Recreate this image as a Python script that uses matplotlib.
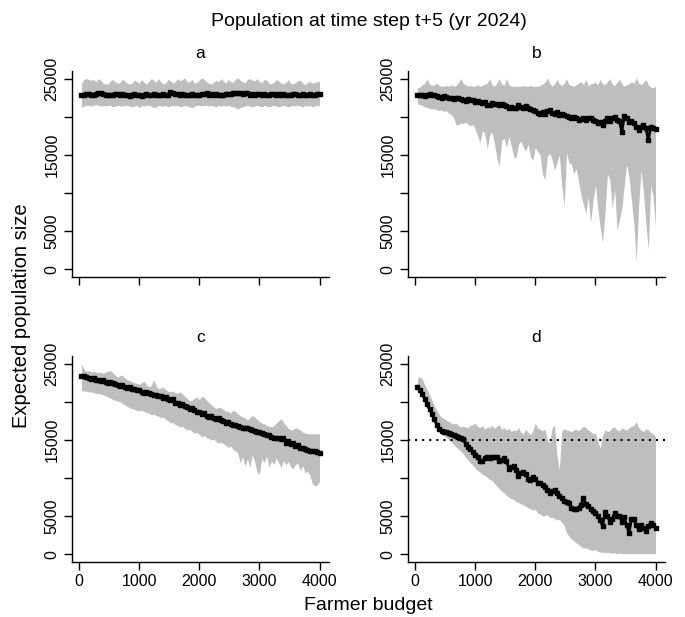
import numpy as np
import matplotlib
matplotlib.use("Agg")
import matplotlib.pyplot as plt

plt.rcParams['font.family'] = ['Liberation Sans', 'DejaVu Sans']

# farmer budget grid (x)
budget = np.arange(40, 4001, 40)

# population values in thousands
a_mean = [22.9, 22.9, 23.0, 23.0, 22.9, 22.9, 23.0, 23.1, 23.1, 23.0,
          22.9, 22.8, 22.8, 22.9, 23.0, 23.0, 22.9, 23.0, 22.9, 22.9,
          22.7, 22.9, 23.0, 22.9, 22.9, 22.7, 22.9, 23.0, 22.9, 22.9,
          23.0, 22.9, 22.9, 22.8, 23.0, 22.9, 22.9, 23.2, 23.1, 23.0,
          23.0, 22.9, 23.0, 22.9, 22.9, 22.8, 23.0, 22.9, 22.9, 22.8,
          23.0, 23.0, 23.1, 22.9, 23.0, 22.9, 23.0, 22.9, 22.9, 22.9,
          23.0, 23.0, 23.0, 23.1, 23.1, 23.1, 23.1, 23.0, 23.1, 23.1,
          22.9, 23.0, 22.8, 23.0, 23.0, 22.8, 23.0, 22.9, 22.9, 23.0,
          23.0, 22.9, 23.0, 22.9, 23.0, 22.9, 22.9, 22.9, 23.0, 23.0,
          22.9, 22.9, 23.0, 22.9, 22.9, 23.0, 22.9, 22.9, 23.0, 23.0]
a_hi = [24.3, 24.9, 25.0, 24.9, 24.8, 24.9, 24.6, 25.0, 24.8, 24.4,
        24.3, 24.3, 24.7, 24.9, 24.6, 24.4, 24.5, 24.9, 24.7, 24.4,
        24.3, 24.4, 24.8, 24.6, 24.4, 24.9, 24.5, 24.3, 24.6, 25.0,
        24.8, 24.5, 25.0, 24.6, 24.3, 24.4, 24.9, 24.7, 24.4, 24.6,
        25.0, 24.7, 24.9, 25.1, 24.5, 24.6, 24.9, 24.4, 24.5, 24.8,
        25.1, 24.9, 24.6, 24.4, 24.3, 24.5, 24.8, 24.6, 25.0, 24.7,
        24.4, 24.9, 24.6, 24.5, 24.9, 25.1, 24.8, 24.6, 24.4, 24.9,
        25.0, 24.8, 24.7, 25.0, 24.6, 24.5, 24.9, 24.8, 24.4, 24.3,
        24.5, 24.9, 24.7, 24.4, 24.3, 24.5, 24.9, 24.4, 24.3, 24.5,
        24.7, 24.8, 24.4, 24.2, 24.5, 24.6, 24.4, 24.5, 24.6, 24.7]
a_lo = [21.2, 21.4, 21.5, 21.5, 21.4, 21.5, 21.6, 21.5, 21.4, 21.5,
        21.4, 21.5, 21.5, 21.3, 21.4, 21.5, 21.4, 21.4, 21.5, 21.5,
        21.4, 21.3, 21.4, 21.5, 21.2, 21.5, 21.4, 21.5, 21.5, 21.4,
        21.2, 21.3, 21.5, 21.4, 21.4, 21.5, 21.3, 21.4, 21.5, 21.4,
        21.5, 21.3, 21.4, 21.5, 21.4, 21.3, 21.2, 21.4, 21.5, 21.5,
        21.4, 21.5, 21.5, 21.4, 21.5, 21.4, 21.3, 21.5, 21.4, 21.5,
        21.4, 21.5, 21.4, 21.3, 21.2, 21.0, 21.2, 21.3, 21.4, 21.5,
        21.4, 21.3, 21.4, 21.5, 21.4, 21.3, 21.5, 21.4, 21.3, 21.4,
        21.5, 21.4, 21.3, 21.4, 21.5, 21.4, 21.3, 21.4, 21.5, 21.4,
        21.5, 21.4, 21.3, 21.5, 21.4, 21.5, 21.3, 21.4, 21.5, 21.4]

b_mean = [22.8, 22.8, 22.9, 22.7, 22.9, 23.0, 22.8, 22.9, 22.7, 22.6,
          22.5, 22.7, 22.6, 22.4, 22.5, 22.3, 22.4, 22.5, 22.3, 22.2,
          22.1, 22.3, 22.2, 22.2, 22.0, 22.1, 21.9, 21.8, 21.9, 21.6,
          21.5, 21.8, 21.7, 21.7, 21.5, 21.7, 21.6, 21.4, 21.2, 21.3,
          21.1, 21.2, 21.5, 21.3, 21.1, 21.4, 21.2, 21.0, 20.9, 20.8,
          20.5, 20.4, 20.6, 20.4, 20.8, 20.9, 20.5, 20.3, 20.6, 20.2,
          20.4, 20.2, 20.1, 20.0, 19.8, 20.0, 19.9, 19.6, 19.7, 19.9,
          19.6, 19.8, 19.9, 19.6, 19.4, 19.2, 19.3, 18.9, 19.5, 19.8,
          19.4, 19.9, 20.0, 19.6, 19.4, 18.0, 20.1, 19.9, 19.3, 19.5,
          19.2, 18.7, 18.3, 18.6, 18.9, 18.5, 17.0, 18.6, 18.5, 18.4]
b_hi = [23.8, 23.9, 24.2, 24.4, 25.0, 24.3, 24.1, 24.2, 24.4, 24.1,
        24.0, 24.0, 24.1, 24.0, 24.2, 24.0, 24.1, 24.5, 25.0, 24.4,
        24.2, 24.0, 24.1, 24.0, 24.0, 24.2, 24.0, 24.1, 24.3, 24.4,
        25.0, 24.2, 24.0, 24.4, 25.0, 24.3, 24.1, 25.0, 24.2, 24.0,
        24.0, 24.0, 24.0, 24.0, 24.1, 24.0, 24.0, 24.1, 24.0, 24.0,
        24.0, 24.1, 24.3, 24.5, 25.1, 24.4, 24.0, 24.3, 24.9, 24.3,
        24.1, 24.4, 25.0, 24.2, 24.1, 24.0, 24.2, 24.4, 24.6, 24.2,
        24.9, 24.1, 24.3, 24.4, 24.5, 24.2, 24.9, 24.3, 24.2, 24.6,
        25.0, 24.3, 24.1, 24.5, 24.9, 24.3, 24.0, 24.2, 24.3, 24.6,
        24.4, 25.1, 24.4, 24.2, 24.5, 24.9, 24.2, 23.9, 23.8, 24.0]
b_lo = [21.7, 21.6, 21.5, 21.3, 21.2, 21.1, 21.0, 21.1, 20.9, 20.8,
        20.9, 20.7, 20.8, 20.5, 20.3, 19.9, 19.0, 18.9, 19.2, 19.1,
        19.3, 19.0, 18.8, 19.0, 18.4, 17.5, 16.6, 18.2, 17.8, 15.8,
        17.6, 18.0, 16.5, 14.6, 13.5, 16.9, 17.2, 16.0, 17.4, 16.2,
        14.8, 14.6, 16.4, 16.8, 16.0, 15.5, 16.4, 14.8, 14.3, 16.0,
        15.4, 15.0, 12.5, 11.7, 14.8, 15.2, 14.4, 13.0, 14.0, 15.0,
        11.0, 8.3, 15.3, 14.0, 13.8, 12.5, 13.2, 11.5, 9.8, 8.5,
        7.4, 9.5, 6.1, 9.0, 11.0, 8.0, 5.5, 3.5, 7.5, 12.5,
        11.8, 8.0, 10.5, 5.2, 6.5, 8.0, 11.0, 13.8, 12.0, 9.0,
        6.0, 0.9, 8.5, 13.0, 10.0, 6.0, 2.6, 11.0, 9.5, 5.6]

c_mean = [23.4, 23.4, 23.2, 23.1, 23.0, 23.1, 22.9, 22.9, 22.7, 22.8,
          22.6, 22.5, 22.6, 22.4, 22.3, 22.2, 22.1, 22.2, 22.0, 21.8,
          21.9, 21.7, 21.7, 21.5, 21.6, 21.3, 21.2, 21.3, 21.1, 21.0,
          20.9, 20.9, 20.7, 20.8, 20.5, 20.6, 20.3, 20.2, 20.3, 19.9,
          19.8, 19.6, 19.7, 19.4, 19.3, 19.1, 19.2, 18.9, 18.7, 18.6,
          18.4, 18.5, 18.2, 18.0, 18.1, 17.9, 17.7, 17.9, 17.6, 17.5,
          17.2, 17.3, 17.1, 16.9, 17.0, 16.8, 16.7, 16.6, 16.6, 16.5,
          16.4, 16.3, 16.2, 16.1, 16.0, 15.9, 15.8, 15.6, 15.7, 15.4,
          15.2, 15.3, 15.2, 15.1, 15.2, 14.6, 14.8, 14.5, 14.6, 14.2,
          14.3, 14.0, 13.9, 13.8, 13.7, 13.6, 13.5, 13.5, 13.4, 13.3]
c_hi = [24.9, 24.3, 24.0, 24.1, 23.9, 24.0, 23.9, 23.8, 23.9, 23.7,
        23.9, 24.0, 24.1, 23.8, 23.5, 23.2, 23.4, 23.5, 23.1, 22.9,
        22.8, 22.6, 22.5, 22.4, 22.3, 22.5, 22.7, 22.2, 22.0, 22.1,
        22.9, 22.1, 21.7, 21.8, 21.9, 21.6, 21.4, 21.3, 21.4, 21.2,
        21.1, 21.3, 21.0, 20.7, 20.4, 20.1, 20.2, 20.5, 20.6, 20.3,
        20.7, 20.6, 20.2, 19.9, 19.6, 19.3, 19.1, 19.3, 19.2, 19.0,
        18.7, 18.8, 18.5, 18.9, 18.7, 18.4, 18.2, 18.0, 17.9, 17.6,
        17.9, 18.2, 18.0, 17.7, 17.4, 17.2, 17.1, 16.9, 16.8, 16.7,
        16.9, 17.2, 17.5, 17.8, 17.3, 16.9, 16.5, 16.3, 16.4, 16.6,
        16.5, 16.3, 16.0, 15.9, 15.8, 15.8, 15.8, 15.8, 15.8, 15.8]
c_lo = [21.5, 21.4, 21.4, 21.3, 21.3, 21.2, 21.1, 21.1, 21.0, 20.9,
        20.8, 20.6, 20.5, 20.3, 20.2, 20.1, 20.0, 19.8, 19.6, 19.4,
        19.2, 19.1, 19.0, 18.9, 18.8, 18.9, 18.7, 18.6, 18.5, 18.3,
        18.4, 18.2, 18.1, 17.9, 18.0, 17.7, 17.5, 17.2, 17.3, 17.0,
        16.9, 16.7, 16.8, 16.5, 16.3, 16.4, 16.1, 15.9, 16.0, 15.7,
        15.4, 15.6, 15.3, 15.2, 15.0, 15.1, 14.8, 14.6, 14.7, 14.5,
        14.3, 14.0, 14.2, 13.8, 13.6, 13.3, 12.0, 12.8, 11.6, 12.5,
        11.4, 13.0, 12.2, 10.8, 10.5, 12.6, 12.0, 12.9, 11.4, 12.2,
        11.8, 12.6, 12.0, 11.4, 12.3, 11.7, 12.2, 11.5, 11.2, 11.8,
        11.9, 11.0, 11.6, 10.7, 10.9, 10.4, 9.3, 9.0, 9.1, 9.6]

d_mean = [22.0, 21.5, 21.0, 20.4, 19.7, 19.0, 18.4, 17.7, 17.0, 16.4,
          16.2, 16.1, 16.0, 15.9, 15.8, 15.7, 15.5, 15.4, 15.3, 15.1,
          14.5, 14.1, 13.8, 13.4, 13.0, 12.7, 12.3, 12.2, 12.6, 12.7,
          12.6, 12.8, 12.7, 12.8, 12.2, 12.4, 12.6, 12.3, 11.2, 11.4,
          11.6, 11.0, 10.3, 10.6, 10.8, 10.5, 9.9, 9.8, 10.1, 9.9,
          9.4, 9.3, 9.1, 8.8, 8.4, 8.0, 8.3, 8.5, 8.0, 7.6,
          7.4, 7.0, 6.9, 6.7, 6.1, 5.9, 6.0, 6.1, 6.5, 7.4,
          6.6, 6.3, 6.0, 5.7, 5.4, 5.0, 4.5, 3.7, 5.5, 5.0,
          4.3, 4.7, 5.4, 5.0, 5.0, 4.3, 4.9, 3.8, 2.8, 4.6,
          4.6, 3.8, 3.3, 3.9, 3.4, 3.0, 3.7, 4.1, 3.8, 3.5]
d_hi = [23.0, 23.3, 23.0, 22.2, 21.6, 20.9, 20.2, 19.5, 18.9, 18.3,
        18.0, 17.8, 17.6, 17.4, 17.2, 17.1, 17.2, 16.9, 16.7, 16.8,
        16.7, 16.6, 16.9, 17.0, 17.2, 16.8, 16.6, 16.9, 16.4, 16.7,
        16.6, 16.9, 16.5, 16.8, 17.0, 16.4, 16.6, 16.3, 16.5, 16.1,
        16.3, 16.2, 16.6, 16.0, 15.8, 16.4, 16.0, 15.7, 16.2, 17.2,
        16.5, 16.4, 16.2, 16.4, 15.0, 14.6, 16.6, 16.9, 13.0, 11.1,
        16.1, 16.5, 16.3, 16.2, 16.1, 16.3, 16.4, 16.2, 16.5, 16.8,
        16.6, 16.3, 16.1, 15.8, 15.9, 14.8, 13.9, 15.6, 16.3, 16.1,
        16.2, 16.6, 16.7, 16.3, 16.2, 16.6, 16.4, 16.3, 16.6, 16.8,
        16.9, 17.4, 16.6, 16.3, 16.1, 16.5, 16.3, 16.0, 15.8, 15.4]
d_lo = [21.7, 21.3, 20.7, 20.0, 19.3, 18.6, 18.0, 17.4, 16.8, 16.1,
        15.8, 15.6, 15.3, 15.0, 14.8, 14.4, 14.1, 13.8, 13.5, 13.2,
        12.7, 12.4, 12.0, 11.7, 11.3, 11.0, 10.8, 10.5, 10.3, 10.1,
        9.8, 9.7, 9.3, 9.0, 8.6, 8.3, 8.1, 7.7, 7.5, 7.3,
        7.2, 6.9, 6.8, 6.6, 6.5, 6.3, 6.1, 6.0, 5.8, 5.9,
        5.4, 5.3, 5.0, 5.1, 5.2, 4.8, 4.9, 4.7, 4.5, 4.6,
        4.2, 3.8, 2.8, 2.4, 2.0, 1.8, 1.5, 1.3, 1.0, 0.8,
        0.9, 0.7, 0.6, 0.5, 0.6, 0.4, 0.3, 0.3, 0.2, 0.3,
        0.2, 0.2, 0.2, 0.1, 0.2, 0.1, 0.1, 0.1, 0.1, 0.1,
        0.1, 0.1, 0.1, 0.1, 0.1, 0.1, 0.1, 0.1, 0.1, 0.1]

panels = [('a', a_mean, a_lo, a_hi),
          ('b', b_mean, b_lo, b_hi),
          ('c', c_mean, c_lo, c_hi),
          ('d', d_mean, d_lo, d_hi)]
target = 15000  # dotted line in panel d

W, H = 685, 617
fig = plt.figure(figsize=(W / 100, H / 100), dpi=100)

# panel boxes in pixels: left, top, width, height
boxes = [(72, 71, 257, 206), (408, 71, 257, 206),
         (72, 356, 257, 206), (408, 356, 257, 206)]

for k, (letter, mean, lo, hi) in enumerate(panels):
    l, t, w, h = boxes[k]
    ax = fig.add_axes([l / W, 1 - (t + h) / H, w / W, h / H])
    mean = np.array(mean) * 1000
    lo = np.array(lo) * 1000
    hi = np.array(hi) * 1000
    ax.fill_between(budget, lo, hi, color='#bebebe', lw=0)
    ax.plot(budget, mean, color='black', lw=2.0, marker='s', ms=3.0)
    if letter == 'd':
        ax.axhline(target, color='black', lw=1.5, ls=(0, (1, 2.4)))
    ax.set_xlim(-118, 4158)
    ax.set_ylim(-1000, 26000)
    for s in ['top', 'right']:
        ax.spines[s].set_visible(False)
    for s in ['left', 'bottom']:
        ax.spines[s].set_linewidth(1.0)
    ax.tick_params(direction='out', length=6, width=1.0, pad=3, labelsize=11.5)
    ax.set_xticks([0, 1000, 2000, 3000, 4000])
    if k < 2:
        ax.set_xticklabels([])
    ax.set_yticks([0, 5000, 10000, 15000, 20000, 25000])
    ax.set_yticklabels(['0', '5000', '', '15000', '', '25000'],
                       rotation=90, va='center')
    fig.text((l + w / 2) / W, 1 - (t - 18) / H, letter, ha='center',
             va='center', fontsize=12.5)

mid = (72 + 665) / 2 / W
fig.text(mid, 1 - 22 / H, 'Population at time step t+5 (yr 2024)',
         ha='center', va='center', fontsize=14)
fig.text(mid, 1 - 605 / H, 'Farmer budget', ha='center', va='center',
         fontsize=14)
fig.text(22 / W, 1 - 316 / H, 'Expected population size', ha='center',
         va='center', rotation=90, fontsize=14.5)

fig.savefig('out.png', dpi=100)
